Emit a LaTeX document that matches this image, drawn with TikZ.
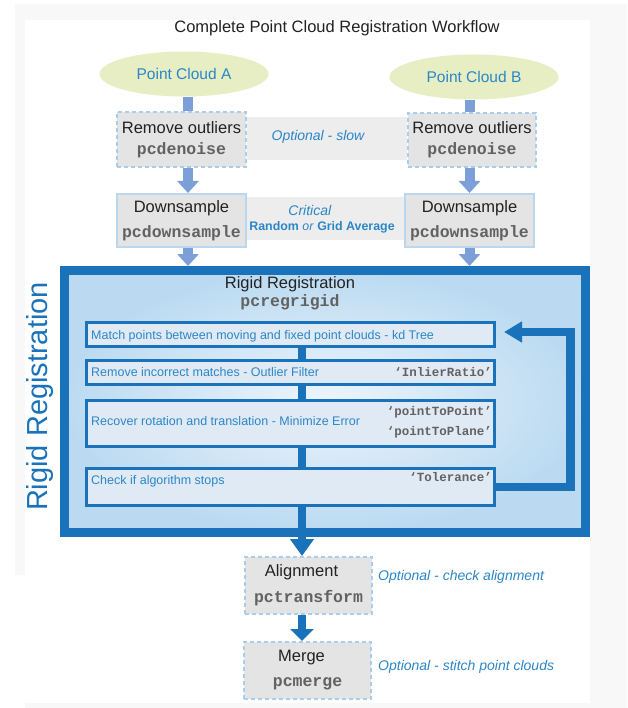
\documentclass[tikz,border=0pt]{standalone}
\usepackage{fontspec}
\setmainfont{Liberation Sans}
\newfontfamily\codefont{Liberation Mono}
\usetikzlibrary{shapes.geometric,arrows.meta}

\definecolor{dblue}{HTML}{1A73BA}
\definecolor{tblue}{HTML}{2B86C8}
\definecolor{lblue}{HTML}{7B9FD6}
\definecolor{dashblue}{HTML}{A9CDEA}
\definecolor{edgeblue}{HTML}{BBD7EE}
\definecolor{boxgray}{HTML}{E4E4E4}
\definecolor{bandgray}{HTML}{EDEDED}
\definecolor{codegray}{HTML}{626262}
\definecolor{ink}{HTML}{222222}
\definecolor{cloud}{HTML}{E7EEC3}
\definecolor{stepfill}{HTML}{E0EAF5}
\definecolor{pagegray}{HTML}{F8F8F8}
\definecolor{rrinner}{HTML}{EDF5FC}
\definecolor{rrouter}{HTML}{BBDAF1}

\newcommand{\code}[1]{{\codefont\bfseries\color{codegray}#1}}

\begin{document}
\begin{tikzpicture}[x=1pt,y=-1pt,
  cloudnode/.style={ellipse, fill=cloud, text=tblue, inner sep=0pt,
    minimum width=169pt, minimum height=45pt, font=\fontsize{15.5}{18}\selectfont},
  optbox/.style={rectangle, fill=boxgray, draw=dashblue, line width=2pt,
    dash pattern=on 4pt off 3pt, align=center, text=ink, inner sep=0pt},
  keybox/.style={rectangle, fill=boxgray, draw=edgeblue, line width=2pt,
    align=center, text=ink, inner sep=0pt},
  stepbox/.style={rectangle, fill=stepfill, draw=dblue, line width=3pt,
    minimum width=408pt, inner sep=0pt},
  steptext/.style={anchor=west, inner sep=0pt, text=tblue,
    font=\fontsize{12.5}{15}\selectfont},
  stepkey/.style={anchor=east, inner sep=0pt, align=right, text=codegray,
    font=\fontsize{12.5}{20}\selectfont\codefont\bfseries},
  note/.style={text=tblue, inner sep=0pt, font=\fontsize{14}{17}\selectfont\itshape},
  lstem/.style={draw=lblue, line width=10pt},
  larrow/.style={lstem, -{Triangle[width=21pt,length=12pt]}},
  bar/.style={draw=dblue, line width=8pt},
  darrow/.style={bar, -{Triangle[width=23pt,length=#1]}},
  darrow/.default=13pt,
  loopback/.style={draw=dblue, line width=8.5pt, line join=miter,
    -{Triangle[width=20pt,length=18pt]}}
]
\useasboundingbox (0,0) rectangle (627,708);

% page panels
\fill[pagegray] (15,4) -- (627,4) -- (627,708) -- (25,708) -- (25,575) -- (15,575) -- cycle;
\fill[white] (25,20) rectangle (590,703);

% bands joining the paired boxes
\fill[bandgray] (247,117) rectangle (407,160);
\fill[bandgray] (247,197) rectangle (404,240);

% title
\node[text=ink, font=\fontsize{16.5}{20}\selectfont] (title) at (337,28)
  {Complete Point Cloud Registration Workflow};

% inputs
\node[cloudnode] (pcA) at (184,74) {Point Cloud A};
\node[cloudnode] (pcB) at (474,77) {Point Cloud B};

\coordinate (xA) at (188,0);
\coordinate (xB) at (469.5,0);

% preprocessing
\node[optbox, minimum width=129pt, minimum height=55pt,
  font=\fontsize{16.5}{21}\selectfont] (rmA) at (181.5,139.5)
  {Remove outliers\\\code{pcdenoise}};
\node[optbox, minimum width=128pt, minimum height=54pt,
  font=\fontsize{16.5}{21}\selectfont] (rmB) at (472,140)
  {Remove outliers\\\code{pcdenoise}};
\node[note] (slow) at (318,137) {Optional - slow};

\node[keybox, minimum width=129pt, minimum height=53pt,
  font=\fontsize{16.5}{25.5}\selectfont] (dsA) at (181.5,220.5)
  {Downsample\\\code{pcdownsample}};
\node[keybox, minimum width=129pt, minimum height=53pt,
  font=\fontsize{16.5}{25.5}\selectfont] (dsB) at (469.5,220.5)
  {Downsample\\\code{pcdownsample}};
\node[text=tblue, align=center, inner sep=0pt,
  font=\fontsize{12.4}{15.5}\selectfont] (crit) at (322,219)
  {\hspace*{-24pt}\textit{\fontsize{14}{15.5}\selectfont Critical}\\
   \textbf{Random} \textit{or} \textbf{Grid Average}};

% registration block
\node[rectangle, draw=dblue, line width=9pt, inner color=rrinner, outer color=rrouter,
  minimum width=521pt, minimum height=262pt] (rr) at (325,401.5) {};
\node[rotate=90, anchor=base, text=dblue, inner sep=0pt,
  font=\fontsize{29}{34}\selectfont] (side) at (47,396.5) {Rigid Registration};
\node[align=center, text=ink, inner sep=0pt,
  font=\fontsize{16.5}{18}\selectfont] (rrt) at (290,293)
  {Rigid Registration\\\code{pcregrigid}};

\node[stepbox, minimum height=24pt] (s1) at (290.5,334.5) {};
\node[stepbox, minimum height=24pt] (s2) at (290.5,372.5) {};
\node[stepbox, minimum height=46pt] (s3) at (290.5,423.5) {};
\node[stepbox, minimum height=37pt] (s4) at (290.5,487) {};

\node[steptext] (t1) at ([xshift=6pt,yshift=-1.5pt]s1.west)
  {Match points between moving and fixed point clouds - kd Tree};
\node[steptext] (t2) at ([xshift=6pt]s2.west)
  {Remove incorrect matches - Outlier Filter};
\node[steptext] (t3) at ([xshift=6pt,yshift=2.5pt]s3.west)
  {Recover rotation and translation - Minimize Error};
\node[steptext] (t4) at ([xshift=6pt,yshift=6pt]s4.west)
  {Check if algorithm stops};
\node[stepkey] (k2) at ([xshift=-4pt]s2.east) {‘InlierRatio’};
\node[stepkey] (k3) at ([xshift=-4pt,yshift=1.5pt]s3.east)
  {‘pointToPoint’\\‘pointToPlane’};
\node[stepkey] (k4) at ([xshift=-4pt,yshift=10pt]s4.east) {‘Tolerance’};

% post-processing
\node[optbox, minimum width=127pt, minimum height=57pt,
  font=\fontsize{16.5}{26}\selectfont] (align) at (308.5,585.5)
  {\hspace*{-14pt}Alignment\\\code{pctransform}};
\node[optbox, minimum width=127pt, minimum height=57pt,
  font=\fontsize{16.5}{25}\selectfont] (merge) at (307.5,670.5)
  {\hspace*{-12pt}Merge\\\code{pcmerge}};
\node[note, anchor=west] (chk) at (378,577) {Optional - check alignment};
\node[note, anchor=west] (sti) at (378,667) {Optional - stitch point clouds};

% connectors
\coordinate (cx) at (302,0);
\coordinate (fbx) at (570.5,400);

\draw[lstem] (pcA.south -| xA) -- (rmA.north -| xA);
\draw[lstem] (pcB.south -| xB) -- (rmB.north -| xB);
\draw[larrow] (rmA.south -| xA) -- (dsA.north -| xA);
\draw[larrow] (rmB.south -| xB) -- (dsB.north -| xB);
\draw[larrow] (dsA.south -| xA) -- (rr.north -| xA);
\draw[larrow] (dsB.south -| xB) -- (rr.north -| xB);

\draw[bar] (s1.south -| cx) -- (s2.north -| cx);
\draw[bar] (s2.south -| cx) -- (s3.north -| cx);
\draw[bar] (s3.south -| cx) -- (s4.north -| cx);
\draw[darrow=17pt] (s4.south -| cx) -- (align.north -| cx);
\draw[darrow=12pt] (align.south -| cx) -- (merge.north -| cx);

\draw[loopback] (s4.east) -| (fbx) |- ([xshift=8pt,yshift=2.5pt]s1.east);
\end{tikzpicture}
\end{document}
